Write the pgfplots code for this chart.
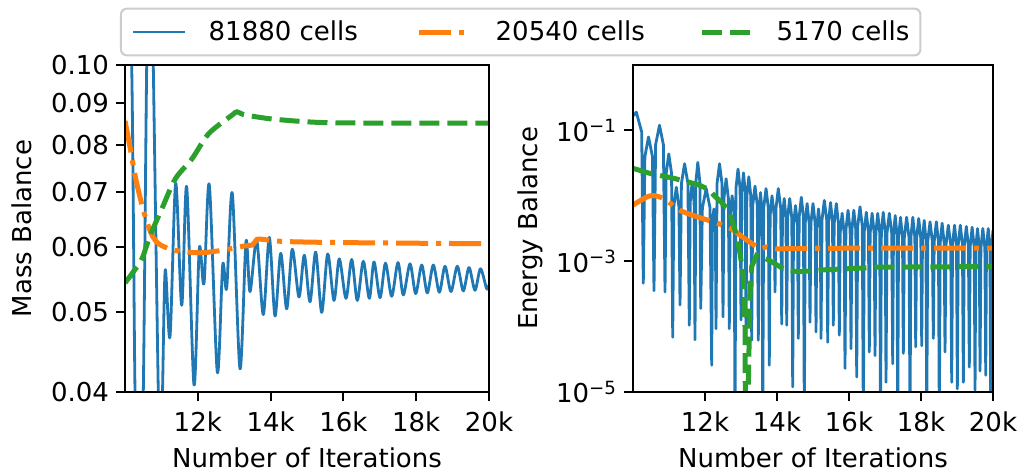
\documentclass[border=0pt]{standalone}
\usepackage{pgfplots}
\pgfplotsset{compat=1.18}
\usepackage{fontspec}
\setmainfont{DejaVu Sans}
\definecolor{mblue}{HTML}{1F77B4}
\definecolor{morange}{HTML}{FF7F0E}
\definecolor{mgreen}{HTML}{2CA02C}
\newcommand{\fs}{\fontsize{13}{15.6}\selectfont}
\pgfplotsset{
  mystyle/.style={
    scale only axis,
    height=163.5pt,
    xmin=10000, xmax=20000,
    xtick={12000,14000,16000,18000,20000},
    xticklabels={12k,14k,16k,18k,20k},
    scaled x ticks=false,
    xminorticks=false, yminorticks=false,
    tick pos=left,
    tick align=outside,
    major tick length=4.5pt,
    every tick/.style={black, line width=1pt},
    axis line style={line width=1pt},
    tick label style={font=\fs},
    xticklabel style={anchor=base, yshift=-15pt},
    yticklabel style={anchor=east, xshift=0pt},
    label style={font=\fs},
    xlabel={Number of Iterations},
    xlabel style={at={(axis description cs:0.5,-0.2294)}, anchor=base},
    axis on top,
  },
  blueline/.style={color=mblue, line width=1.4pt, line join=round},
  orangeline/.style={color=morange, line width=2.5pt, dash pattern=on 16pt off 4pt on 2.5pt off 4pt},
  greenline/.style={color=mgreen, line width=2.5pt, dash pattern=on 10pt off 4pt},
}
\begin{document}
\begin{tikzpicture}[font=\fs]
\path[use as bounding box] (0,0) rectangle (514pt,236pt);
\begin{axis}[mystyle, at={(62.5pt,40pt)}, anchor=south west, width=182pt,
  ymode=log, ymin=0.04, ymax=0.10,
  ytick={0.04,0.05,0.06,0.07,0.08,0.09,0.10},
  yticklabels={0.04,0.05,0.06,0.07,0.08,0.09,0.10},
  ylabel={Mass Balance},
  ylabel style={at={(axis description cs:-0.283,0.5)}, anchor=center},
  legend style={at={(1.087,1.1009)}, anchor=center, legend columns=3,
    draw=black!20, line width=1pt, rounded corners=3pt, fill=white, font=\fs,
    inner xsep=5.5pt, inner ysep=6pt,
    nodes={inner sep=0pt},
    /tikz/column sep=0pt},
  legend image code/.code={\draw[#1] (0pt,0pt) -- (26pt,0pt);},
]
\addplot[blueline, smooth] coordinates {
(10000,0.20) (10184,0.100) (10275,0.040) (10385,0.022) (10503,0.040) (10596,0.100)
(10687,0.170) (10777,0.100) (10915,0.040) (10975,0.033) (11030,0.040) (11105,0.0563)
(11236,0.0467) (11393,0.0718) (11558,0.0510) (11695,0.0711) (11896,0.0408) (12041,0.0598)
(12170,0.0542) (12316,0.0715) (12536,0.0423) (12684,0.0571) (12794,0.0535) (12948,0.0698)
(13159,0.0427) (13324,0.0610) (13434,0.0530) (13618,0.0612) (13799,0.0497) (13964,0.0617)
(14121,0.0495) (14278,0.0590) (14442,0.0505) (14596,0.0597) (14780,0.0522) (14926,0.0587)
(15082,0.0515) (15239,0.0592) (15404,0.0500) (15569,0.0589) (15742,0.0517) (15887,0.0581)
(16071,0.0520) (16228,0.0580) (16382,0.0517) (16547,0.0577) (16712,0.0520) (16841,0.0576)
(17006,0.0521) (17157,0.0574) (17327,0.0523) (17500,0.0575) (17646,0.0525) (17830,0.0573)
(17986,0.0527) (18151,0.0571) (18305,0.0528) (18470,0.0571) (18635,0.0529) (18791,0.0569)
(18956,0.0530) (19129,0.0569) (19294,0.0531) (19451,0.0567) (19615,0.0532) (19766,0.0565)
(19937,0.0534) (20000,0.0540)
};
\addlegendentry{\hbox to 115pt{\hskip 11pt 81880 cells\hfil}}
\addplot[orangeline, smooth] coordinates {
(10000,0.0855) (10146,0.0791) (10284,0.0731) (10467,0.0675) (10604,0.0644) (10742,0.0621)
(10925,0.0606) (11291,0.0596) (11750,0.0592) (12115,0.0591) (12665,0.0595) (13260,0.0602)
(13500,0.0604) (13600,0.0612) (13709,0.0614) (14349,0.0610) (16000,0.0608) (20000,0.0606)
};
\addlegendentry{\hbox to 113pt{\hskip 11pt 20540 cells\hfil}}
\addplot[greenline, smooth] coordinates {
(10000,0.0543) (10265,0.0563) (10467,0.0581) (10696,0.0621) (11016,0.0669) (11383,0.0727)
(11841,0.0769) (12299,0.0825) (12940,0.0869) (13077,0.0877) (13260,0.0870) (13526,0.0866)
(14000,0.0860) (14808,0.0854) (15500,0.0851) (16731,0.0850) (20000,0.0850)
};
\addlegendentry{\hbox{\hskip 10pt 5170 cells}}
\end{axis}
\begin{axis}[mystyle, at={(316.5pt,40pt)}, anchor=south west, width=180pt,
  ymode=log, ymin=1e-5, ymax=1,
  ytick={1e-5,1e-3,1e-1},
  yticklabels={10\textsuperscript{−5},10\textsuperscript{−3},10\textsuperscript{−1}},
  ylabel={Energy Balance},
  ylabel style={at={(axis description cs:-0.286,0.5)}, anchor=center},
]
\addplot[blueline] coordinates {
(10000,0.166) (10092,0.19) (10241,0.095) (10286,4.6e-4)
(10330,0.0398) (10431,0.0794) (10540,0.0398) (10583,3.55e-4)
(10628,0.0603) (10736,0.120) (10844,0.0603) (10889,3.39e-4)
(10921,0.0219) (10994,0.0437) (11071,0.0219) (11103,6.9e-5)
(11133,6.8e-3) (11203,0.0135) (11276,6.8e-3) (11306,2.14e-4)
(11345,0.0155) (11433,0.0309) (11525,0.0155) (11564,1.05e-4)
(11588,7.9e-3) (11642,0.0158) (11698,7.9e-3) (11722,6.3e-5)
(11746,0.0162) (11800,0.0324) (11857,0.0162) (11881,1.9e-4)
(11927,6.5e-3) (12033,0.0129) (12140,6.5e-3) (12186,2.57e-5)
(12204,3.2e-3) (12245,6.3e-3) (12288,3.2e-3) (12306,9.3e-5)
(12335,0.0155) (12403,0.0309) (12471,0.0155) (12500,1.41e-4)
(12526,9.1e-3) (12586,0.0182) (12649,9.1e-3) (12675,9.3e-5)
(12699,5.0e-3) (12753,0.010) (12810,5.0e-3) (12834,3.2e-6)
(12859,0.0129) (12917,0.0257) (12975,0.0129) (13000,1.26e-4)
(13021,0.0112) (13070,0.0224) (13118,0.0112) (13139,6.3e-5)
(13163,9.8e-3) (13217,0.0195) (13273,9.8e-3) (13297,6.2e-5)
(13325,7.1e-3) (13389,0.0141) (13453,7.1e-3) (13481,6.2e-5)
(13499,5.6e-3) (13542,0.0112) (13585,5.6e-3) (13603,3.2e-6)
(13630,6.5e-3) (13695,0.0129) (13759,6.5e-3) (13786,2.57e-5)
(13810,5.0e-3) (13861,0.010) (13921,5.0e-3) (13945,3.39e-4)
(13973,6.5e-3) (14036,0.0129) (14103,6.5e-3) (14131,1.1e-4)
(14152,4.6e-3) (14200,9.1e-3) (14249,4.6e-3) (14270,1.05e-4)
(14295,4.6e-3) (14353,9.1e-3) (14411,4.6e-3) (14436,1.2e-5)
(14459,3.55e-3) (14514,7.1e-3) (14569,3.55e-3) (14592,6.6e-5)
(14617,4.8e-3) (14675,9.5e-3) (14734,4.8e-3) (14759,3.2e-6)
(14783,3.8e-3) (14836,7.6e-3) (14893,3.8e-3) (14917,1.17e-4)
(14942,3.8e-3) (15000,7.6e-3) (15059,3.8e-3) (15084,8.3e-5)
(15105,3.2e-3) (15153,6.3e-3) (15202,3.2e-3) (15223,6.6e-5)
(15251,4.3e-3) (15314,8.5e-3) (15381,4.3e-3) (15409,5.75e-5)
(15432,4.0e-3) (15487,7.9e-3) (15541,4.0e-3) (15564,1.05e-4)
(15589,3.8e-3) (15648,7.6e-3) (15706,3.8e-3) (15731,7.4e-5)
(15755,2.7e-3) (15809,5.4e-3) (15865,2.7e-3) (15889,2.3e-5)
(15914,3.0e-3) (15973,6.0e-3) (16031,3.0e-3) (16056,4.6e-5)
(16080,3.0e-3) (16134,6.0e-3) (16190,3.0e-3) (16214,1.7e-5)
(16242,3.4e-3) (16306,6.8e-3) (16370,3.4e-3) (16398,3.2e-6)
(16423,2.8e-3) (16481,5.6e-3) (16539,2.8e-3) (16564,4.1e-5)
(16588,2.7e-3) (16642,5.4e-3) (16699,2.7e-3) (16723,3.6e-5)
(16746,2.7e-3) (16798,5.4e-3) (16853,2.7e-3) (16876,3.2e-6)
(16899,2.8e-3) (16951,5.6e-3) (17005,2.8e-3) (17028,1.41e-5)
(17056,2.7e-3) (17120,5.4e-3) (17186,2.7e-3) (17214,2.7e-5)
(17235,2.5e-3) (17284,5.0e-3) (17332,2.5e-3) (17353,3.2e-6)
(17376,2.3e-3) (17431,4.7e-3) (17486,2.3e-3) (17509,3.9e-5)
(17537,2.3e-3) (17600,4.7e-3) (17667,2.3e-3) (17695,3.2e-6)
(17719,2.3e-3) (17772,4.7e-3) (17829,2.3e-3) (17853,4.9e-5)
(17878,2.2e-3) (17936,4.5e-3) (17995,2.2e-3) (18020,5.1e-5)
(18041,2.1e-3) (18089,4.2e-3) (18138,2.1e-3) (18159,3.2e-6)
(18186,2.0e-3) (18251,4.0e-3) (18315,2.0e-3) (18342,6.6e-5)
(18367,2.0e-3) (18426,4.0e-3) (18484,2.0e-3) (18509,3.2e-6)
(18533,1.9e-3) (18587,3.8e-3) (18643,1.9e-3) (18667,4.1e-5)
(18695,1.78e-3) (18759,3.55e-3) (18825,1.78e-3) (18853,1.41e-5)
(18876,1.78e-3) (18931,3.55e-3) (18986,1.78e-3) (19009,1.12e-5)
(19034,1.78e-3) (19092,3.55e-3) (19151,1.78e-3) (19176,1.41e-5)
(19201,1.7e-3) (19259,3.4e-3) (19317,1.7e-3) (19342,2.4e-5)
(19366,1.66e-3) (19420,3.3e-3) (19477,1.66e-3) (19501,1.07e-5)
(19522,1.58e-3) (19570,3.16e-3) (19619,1.58e-3) (19640,2.1e-5)
(19664,1.58e-3) (19717,3.16e-3) (19774,1.58e-3) (19798,1.8e-5)
(19819,1.58e-3) (19867,3.16e-3) (19916,1.58e-3) (19937,3.2e-6)
(19960,1.58e-3) (20000,3.0e-3)
};
\addplot[orangeline, smooth] coordinates {
(10000,7.2e-3) (10472,1.0e-2) (10842,9.1e-3) (11306,6.0e-3) (11770,4.8e-3) (12231,4.0e-3)
(12695,3.2e-3) (13064,2.3e-3) (13306,1.86e-3) (13528,1.55e-3) (13714,1.66e-3) (13945,1.55e-3)
(14175,1.55e-3) (16028,1.58e-3) (19917,1.58e-3) (20000,1.58e-3)
};
\addplot[greenline] coordinates {
(10000,0.0263) (10472,0.022) (11120,0.0186) (11814,0.0148) (12100,0.0125) (12278,9.8e-3)
(12450,8.0e-3) (12603,6.5e-3) (12720,4.7e-3) (12834,3.0e-3) (12900,2.1e-3) (12973,1.32e-3)
(13064,5.8e-4) (13111,1.0e-4) (13135,1e-7) (13250,3.2e-4) (13297,8.3e-4) (13436,1.23e-3)
(13759,1.05e-3) (14223,7.4e-4) (14592,6.9e-4) (15334,7.4e-4) (16259,7.8e-4) (16723,8.1e-4)
(20000,8.3e-4)
};
\end{axis}
\end{tikzpicture}
\end{document}
